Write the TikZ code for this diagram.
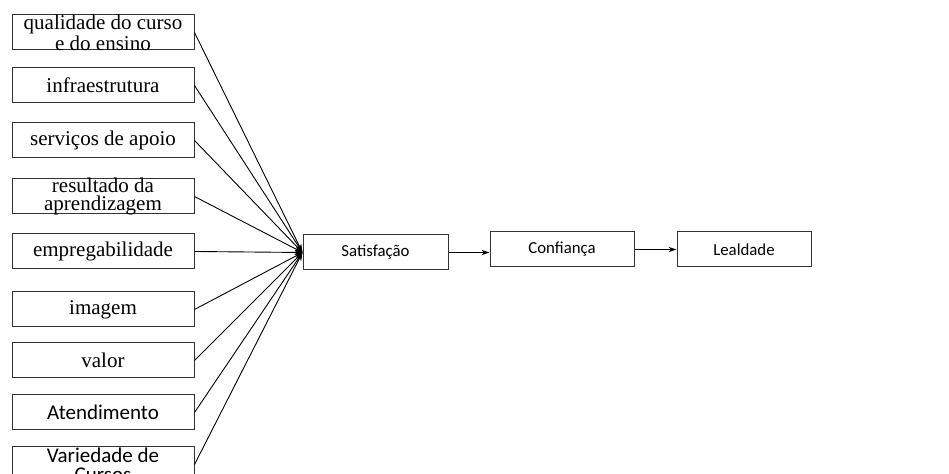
\documentclass[tikz,border=0pt]{standalone}
\usepackage{fontspec}
\setmainfont{Liberation Serif}
\newfontfamily\carlito{Carlito}
\usetikzlibrary{positioning, arrows.meta}

\begin{document}
\begin{tikzpicture}[x=0.5pt, y=-0.5pt,
    fator/.style={draw=black!80, line width=0.5pt, minimum width=91pt, minimum height=17.5pt,
        inner xsep=1pt, inner ysep=0pt, align=center, font=\fontsize{10.5}{9.3}\selectfont},
    fatorsans/.style={fator, font=\carlito\fontsize{10.5}{9.3}\selectfont},
    duaslinhas/.style={inner ysep=-1.3pt},
    etapa/.style={draw=black!80, line width=0.5pt, minimum height=17.5pt,
        font=\carlito\fontsize{8.4}{10}\selectfont},
    liga/.style={line width=0.45pt, -{Stealth[length=4pt, width=2.6pt]}}]
    \useasboundingbox (0,0) rectangle (949,474);
    \fill[white] (0,0) rectangle (949,474);

    % fatores da satisfacao
    \node[fator, duaslinhas] (qualidade) at (103,32.5) {qualidade do curso\\e do ensino};
    \node[fator] (infra) at (103,85.5) {infraestrutura};
    \node[fator] (servicos) at (103,140.5) {serviços de apoio};
    \node[fator, duaslinhas] (resultado) at (103,196.5) {resultado da\\aprendizagem};
    \node[fator] (empreg) at (103,251.5) {empregabilidade};
    \node[fator] (imagem) at (103,309.5) {imagem};
    \node[fator] (valor) at (103,360.5) {valor};
    \node[fatorsans] (atend) at (103,412.5) {Atendimento};
    \node[fatorsans, duaslinhas] (variedade) at (103,464.5) {Variedade de\\Cursos};

    % cadeia principal
    \node[etapa, minimum width=72.5pt] (satisf) at (375.5,252.5) {Satisfação};
    \node[etapa, minimum width=72pt] (confianca) at (562,249.5) {Confiança};
    \node[etapa, minimum width=67pt] (lealdade) at (744,249.5) {Lealdade};

    \foreach \f in {qualidade, infra, servicos, resultado, empreg, imagem, valor, atend, variedade}
    {
        \draw[liga] (\f.east) -- (satisf.west);
    }
    \draw[liga] (satisf.east) -- (satisf.east -| confianca.west);
    \draw[liga] (confianca.east) -- (lealdade.west);
\end{tikzpicture}
\end{document}
